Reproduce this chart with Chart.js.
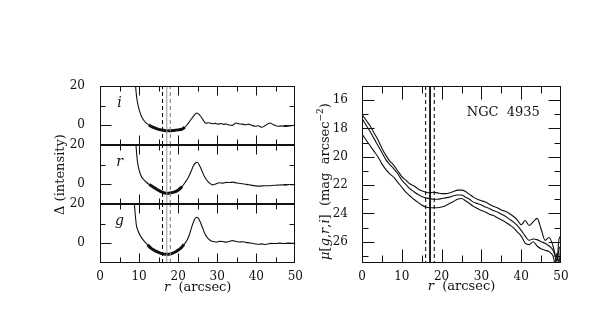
<!DOCTYPE html>
<html>
<head>
<meta charset="utf-8">
<script src="https://cdn.jsdelivr.net/npm/chart.js@4.4.1/dist/chart.umd.min.js"></script>
<style>
  html, body { margin: 0; padding: 0; background: #fff; }
  #wrap { position: relative; width: 598px; height: 318px; overflow: hidden; }
  #left { position: absolute; left: 0; top: 0; }
  #right { position: absolute; left: 300px; top: 0; }
</style>
</head>
<body>
<div id="wrap">
  <canvas id="left" width="310" height="318"></canvas>
  <canvas id="right" width="298" height="318"></canvas>
</div>
<script>
// Left panel: Delta (intensity) residuals for the i, r, g bands
const iRadius = [9.1, 9.4, 9.8, 10.2, 10.6, 11.2, 11.8, 12.5, 13.1, 14, 14.8, 15.8, 16.8, 17.5, 18.9, 20, 21, 21.7, 22.3, 23, 23.9, 24.8, 25.6, 26.3, 26.8, 27.3, 27.7, 28.3, 28.9, 29.5, 30.2, 31, 31.6, 32.3, 33, 33.9, 34.8, 35.5, 36.3, 37.3, 38, 38.8, 39.8, 40.5, 41.4, 42.2, 43.5, 44.3, 45.6, 46.5, 47.3, 48, 49, 50];
const iDelta  = [20, 14, 9.7, 6.8, 4.6, 2.6, 1.2, 0.2, -0.5, -1.3, -1.9, -2.4, -2.7, -2.8, -2.6, -2.3, -1.9, -1.0, 0.3, 2.2, 4.6, 6.3, 5.0, 3.0, 1.5, 1.0, 1.3, 1.1, 0.8, 1.0, 0.6, 0.9, 0.5, 0.7, 0.2, 0, 1.2, 0.8, 0.6, 0.3, 0.6, 0, -0.5, -0.2, -1, -0.2, 1.2, 0.4, -0.5, -0.3, -0.6, -0.5, -0.2, 0.2];

const rRadius = [9.2, 9.5, 9.8, 10.2, 10.6, 11.2, 11.8, 12.6, 13.5, 14.5, 15.6, 16.5, 17.3, 18.2, 19.3, 20.2, 21, 21.8, 22.7, 23.3, 23.9, 24.5, 24.9, 25.5, 26, 26.6, 27.3, 28, 28.9, 29.6, 30.6, 31.5, 32.3, 33.1, 34, 35, 36.4, 37.5, 38.6, 39.8, 41, 42, 43.1, 44.5, 45.5, 46.4, 47.5, 48.5, 49.5, 50];
const rDelta  = [20, 13, 9, 6, 3.9, 2.4, 1.2, -0.1, -1.2, -2.5, -3.7, -4.4, -4.6, -4.3, -3.7, -2.6, -1.2, 1.0, 3.9, 6.5, 9.5, 11.0, 11.2, 9.5, 7.3, 4.5, 2.2, 0.7, -0.3, 0.2, 0.8, 0.6, 1.0, 0.9, 1.1, 0.7, 0.3, 0.0, -0.4, -0.8, -0.9, -0.7, -0.7, -0.5, -0.4, -0.3, -0.4, -0.1, -0.2, 0];

const gRadius = [8.8, 9.05, 9.3, 9.7, 10.2, 10.8, 11.4, 12.2, 13.1, 14.3, 15.6, 16.8, 17.6, 18.5, 19.6, 20.6, 21.5, 22.3, 22.9, 23.5, 24.3, 24.7, 25.1, 25.6, 26.2, 26.8, 27.4, 28.1, 28.9, 29.8, 30.6, 31.4, 32.3, 33.2, 33.9, 34.8, 35.6, 36.5, 37.3, 38.4, 39.5, 40.6, 41.5, 42.3, 43.2, 44, 45, 46, 47, 48.2, 49, 50];
const gDelta  = [20, 14, 9.4, 6.5, 4.3, 2.4, 0.9, -0.8, -2.6, -4.0, -5.1, -5.6, -5.5, -5.1, -4.0, -2.6, -0.6, 1.7, 4.5, 8.5, 12.5, 13.3, 12.9, 11.1, 8.2, 5.1, 3.0, 1.7, 0.9, 0.7, 1.0, 0.9, 0.6, 1.1, 1.4, 0.9, 0.7, 0.8, 0.5, 0.2, -0.2, -0.5, -0.3, -0.6, -0.2, 0, -0.1, 0.1, -0.1, 0.2, 0, 0];

const bandLabels = ['i', 'r', 'g'];
const fitRanges = [[12.3, 21.7], [12.0, 21.5], [11.6, 22.0]];   // thick fitted part
const deltaMin = -10;
const deltaMax = 20;
const deltaTickLabels = [0, 20];

// Right panel: surface brightness profiles
const profileRadius = [0, 1, 2, 3, 4, 5, 6, 7, 8, 9, 10, 11, 12, 13, 14, 15, 16, 17, 18, 19, 20, 21, 22, 23, 24, 25, 26, 27, 28, 29, 30, 31, 32, 33, 34, 35, 36, 37, 38, 39, 40, 41, 42, 43, 44, 45, 46, 47, 48, 48.5, 49, 49.5, 50];
const muI = [17.0, 17.4, 17.8, 18.3, 18.8, 19.4, 19.9, 20.3, 20.6, 21.0, 21.4, 21.65, 21.9, 22.05, 22.25, 22.4, 22.5, 22.55, 22.5, 22.55, 22.6, 22.6, 22.55, 22.45, 22.35, 22.35, 22.45, 22.65, 22.85, 23.0, 23.1, 23.2, 23.35, 23.5, 23.6, 23.75, 23.85, 24.0, 24.2, 24.45, 24.8, 24.5, 24.85, 24.6, 24.35, 25.1, 25.9, 25.7, 26.3, 26.9, 27.4, 25.8, 25.6];
const muR = [17.3, 17.75, 18.2, 18.7, 19.2, 19.7, 20.2, 20.55, 20.85, 21.2, 21.65, 21.95, 22.25, 22.45, 22.65, 22.8, 22.9, 22.95, 23.0, 23.0, 22.95, 22.9, 22.85, 22.75, 22.7, 22.7, 22.85, 23.0, 23.2, 23.3, 23.4, 23.55, 23.65, 23.8, 23.9, 24.05, 24.2, 24.4, 24.6, 24.85, 25.2, 25.6, 25.9, 25.8, 25.85, 26.0, 26.1, 26.3, 26.6, 27.0, 27.3, 26.5, 26.3];
const muG = [18.4, 18.8, 19.2, 19.6, 20.0, 20.5, 20.9, 21.2, 21.45, 21.8, 22.15, 22.5, 22.75, 23.0, 23.2, 23.4, 23.55, 23.6, 23.6, 23.6, 23.55, 23.45, 23.3, 23.15, 23.0, 22.95, 23.1, 23.3, 23.5, 23.65, 23.8, 23.9, 24.05, 24.15, 24.3, 24.45, 24.6, 24.8, 25.0, 25.3, 25.6, 26.1, 26.2, 26.0, 26.3, 26.5, 26.6, 26.7, 27.0, 27.5, 26.8, 27.5, 26.0];
const muMin = 15;
const muMax = 27.5;
const muTickLabels = [16, 18, 20, 22, 24, 26];
const muMinor = [17, 19, 21, 23, 25, 27];

// Radii of the vertical reference lines
const cutRadiiLeft = [16, 17.1, 18];
const cutRadiiRight = [16, 17.1, 18.15];

const radiusTicks = [0, 10, 20, 30, 40, 50];
const radiusMinor = [5, 15, 25, 35, 45];

const ink = '#111';
Chart.defaults.font.family = "'DejaVu Serif', serif";
Chart.defaults.font.size = 12;
Chart.defaults.color = ink;

const zip = (xs, ys) => xs.map((x, k) => ({ x: x, y: ys[k] }));

/**
 * Frame plus inward tick marks on all four sides of every panel
 */
const frameTicks = {
  id: 'frameTicks',
  afterDatasetsDraw(chart, args, o) {
    const { ctx, chartArea: a } = chart;
    const xs = chart.scales.x;
    const L = Math.round(a.left) + 0.5;
    const R = Math.round(a.right) - 0.5;
    ctx.save();
    ctx.strokeStyle = ink;
    ctx.lineWidth = 1;
    o.panels.forEach(p => {
      const s = chart.scales[p.id];
      const top = Math.round(s.top) + 0.5;
      const bot = Math.round(s.bottom) - 0.5;
      ctx.strokeRect(L, top, R - L, bot - top);
      ctx.beginPath();
      const xt = (vals, len) => vals.forEach(v => {
        const px = Math.round(xs.getPixelForValue(v)) + 0.5;
        ctx.moveTo(px, top); ctx.lineTo(px, top + len);
        ctx.moveTo(px, bot); ctx.lineTo(px, bot - len);
      });
      const yt = (vals, len) => vals.forEach(v => {
        const py = Math.round(s.getPixelForValue(v)) + 0.5;
        ctx.moveTo(L, py); ctx.lineTo(L + len, py);
        ctx.moveTo(R, py); ctx.lineTo(R - len, py);
      });
      xt(radiusTicks.slice(1, -1), o.xMajorLen);
      xt(radiusMinor, o.xMinorLen);
      yt(p.major, o.yMajorLen);
      yt(p.minor, o.yMinorLen);
      ctx.stroke();
    });
    ctx.restore();
  }
};

// Text with italic / superscript parts, centred on (x, y)
function drawRich(ctx, parts, x, y, rot, size) {
  const fontFor = p => (p.it ? 'italic ' : '') + (p.sup ? Math.round(size * 0.72) : size) + "px 'DejaVu Serif', serif";
  ctx.save();
  ctx.translate(x, y);
  ctx.rotate(rot);
  let w = 0;
  parts.forEach(p => { ctx.font = fontFor(p); w += ctx.measureText(p.t).width; });
  let cx = -w / 2;
  ctx.textBaseline = 'middle';
  ctx.textAlign = 'left';
  ctx.fillStyle = ink;
  parts.forEach(p => {
    ctx.font = fontFor(p);
    ctx.fillText(p.t, cx, p.sup ? -size * 0.42 : 0);
    cx += ctx.measureText(p.t).width;
  });
  ctx.restore();
}

const noGrid = { display: false, drawTicks: false };

const xAxis = () => ({
  type: 'linear', min: 0, max: 50,
  afterFit: s => { s.height = 33; },
  grid: noGrid, border: { display: false },
  ticks: { stepSize: 10, padding: 7, maxRotation: 0, autoSkip: false, color: ink }
});

/**
 * Left chart: three stacked Delta panels
 */
const panelIds = ['yi', 'yr', 'yg'];
const panelRadius = [iRadius, rRadius, gRadius];
const panelDelta = [iDelta, rDelta, gDelta];
const leftCutStyles = [
  { color: '#000', dash: [4, 3], width: 1 },
  { color: '#9a9a9a', dash: [], width: 1 },
  { color: '#8a8a8a', dash: [4, 3], width: 1.2 }
];

const leftSets = [];
panelIds.forEach((id, k) => {
  const pts = zip(panelRadius[k], panelDelta[k]);
  cutRadiiLeft.forEach((c, j) => {
    leftSets.push({
      data: [{ x: c, y: deltaMin }, { x: c, y: deltaMax }], yAxisID: id,
      borderColor: leftCutStyles[j].color, borderDash: leftCutStyles[j].dash,
      borderWidth: leftCutStyles[j].width, pointRadius: 0
    });
  });
  leftSets.push({
    data: pts, yAxisID: id, borderColor: ink, borderWidth: 1.1,
    pointRadius: 0, cubicInterpolationMode: 'monotone'
  });
  leftSets.push({
    data: pts.filter(p => p.x >= fitRanges[k][0] && p.x <= fitRanges[k][1]), yAxisID: id,
    borderColor: ink, borderWidth: 3, pointRadius: 0, cubicInterpolationMode: 'monotone'
  });
});

const deltaAxis = () => ({
  type: 'linear', position: 'left', stack: 'delta', stackWeight: 1,
  min: deltaMin, max: deltaMax,
  afterFit: s => { s.width = 50; },
  grid: noGrid, border: { display: false },
  ticks: {
    stepSize: 10, padding: 15, autoSkip: false, color: ink,
    callback: v => deltaTickLabels.includes(v) ? String(v) : ''
  }
});

const leftText = {
  id: 'leftText',
  afterDatasetsDraw(chart) {
    const { ctx, chartArea: a, scales } = chart;
    panelIds.forEach((id, k) => {
      drawRich(ctx, [{ t: bandLabels[k], it: true }], scales.x.getPixelForValue(5), scales[id].getPixelForValue(11), 0, 14);
    });
    drawRich(ctx, [{ t: 'Δ (intensity)' }], a.left - 39, (a.top + a.bottom) / 2, -Math.PI / 2, 13);
    drawRich(ctx, [{ t: 'r', it: true }, { t: '  (arcsec)' }], (a.left + a.right) / 2, a.bottom + 25, 0, 13);
  }
};

new Chart(document.getElementById('left'), {
  type: 'line',
  data: { datasets: leftSets },
  options: {
    responsive: false,
    animation: false,
    layout: { padding: { left: 50, top: 86, right: 13, bottom: 22 } },
    plugins: {
      legend: { display: false },
      tooltip: { enabled: false },
      frameTicks: {
        xMajorLen: 9, xMinorLen: 5, yMajorLen: 11, yMinorLen: 5,
        panels: panelIds.map(id => ({ id: id, major: [0], minor: [10] }))
      }
    },
    scales: {
      x: xAxis(),
      yg: deltaAxis(),
      yr: deltaAxis(),
      yi: deltaAxis()
    }
  },
  plugins: [frameTicks, leftText]
});

/**
 * Right chart: mu[g,r,i] profiles
 */
const rightSets = [];
cutRadiiRight.forEach((c, j) => {
  rightSets.push({
    data: [{ x: c, y: muMin }, { x: c, y: muMax }],
    borderColor: '#000', borderDash: j === 1 ? [] : [4, 3], borderWidth: 1, pointRadius: 0
  });
});
[muI, muR, muG].forEach(mu => {
  rightSets.push({
    data: zip(profileRadius, mu), borderColor: ink, borderWidth: 1.1,
    pointRadius: 0, cubicInterpolationMode: 'monotone'
  });
});

const rightText = {
  id: 'rightText',
  afterDatasetsDraw(chart) {
    const { ctx, chartArea: a, scales } = chart;
    drawRich(ctx, [{ t: 'NGC  4935' }], scales.x.getPixelForValue(35.5), scales.y.getPixelForValue(16.9), 0, 13);
    drawRich(ctx, [
      { t: 'μ', it: true }, { t: '[' }, { t: 'g', it: true }, { t: ',' }, { t: 'r', it: true },
      { t: ',' }, { t: 'i', it: true }, { t: ']  (mag  arcsec' }, { t: '−2', sup: true }, { t: ')' }
    ], a.left - 36, (a.top + a.bottom) / 2 + 7, -Math.PI / 2, 13);
    drawRich(ctx, [{ t: 'r', it: true }, { t: '  (arcsec)' }], (a.left + a.right) / 2, a.bottom + 24, 0, 13);
  }
};

new Chart(document.getElementById('right'), {
  type: 'line',
  data: { datasets: rightSets },
  options: {
    responsive: false,
    animation: false,
    layout: { padding: { left: 12, top: 86, right: 37, bottom: 22 } },
    plugins: {
      legend: { display: false },
      tooltip: { enabled: false },
      frameTicks: {
        xMajorLen: 13, xMinorLen: 7, yMajorLen: 12, yMinorLen: 6,
        panels: [{ id: 'y', major: muTickLabels, minor: muMinor }]
      }
    },
    scales: {
      x: xAxis(),
      y: {
        type: 'linear', position: 'left', reverse: true, min: muMin, max: muMax,
        afterFit: s => { s.width = 50; },
        grid: noGrid, border: { display: false },
        ticks: {
          stepSize: 1, padding: 14, autoSkip: false, color: ink,
          callback: v => muTickLabels.includes(v) ? String(v) : ''
        }
      }
    }
  },
  plugins: [frameTicks, rightText]
});
</script>
</body>
</html>
